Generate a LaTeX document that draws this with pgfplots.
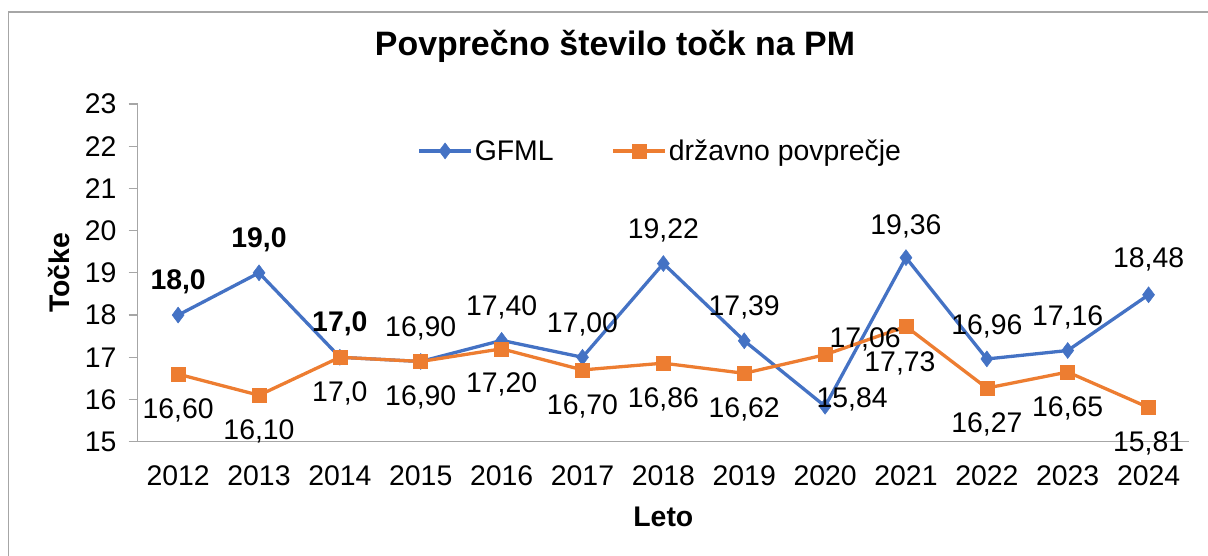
\documentclass[border=0pt]{standalone}
\usepackage{pgfplots}
\pgfplotsset{compat=1.18}
\usepackage{fontspec}
\setmainfont{Liberation Sans}
\definecolor{cblue}{HTML}{4472C4}
\definecolor{corange}{HTML}{ED7D31}
\definecolor{axgray}{HTML}{A6A6A6}
\newcommand\lblfont{\fontsize{28.5}{33}\selectfont}
\begin{document}
\begin{tikzpicture}[x=1bp,y=1bp]
\useasboundingbox (0,0) rectangle (1208,556);
\draw[axgray, line width=1.5bp] (8.5,0) -- (8.5,544) -- (1208,544);
\begin{axis}[
  at={(137.7bp,114.3bp)}, anchor=south west,
  scale only axis, width=1051.3bp, height=337.7bp,
  xmin=-0.5, xmax=12.5, ymin=15, ymax=23,
  axis x line*=bottom, axis y line*=left,
  axis line style={axgray, line width=1.2bp, -},
  every tick/.style={axgray, line width=1.2bp},
  tick align=outside, major tick length=9bp,
  ytick={15,...,23},
  xtick={0,...,12},
  xticklabels={2012,2013,2014,2015,2016,2017,2018,2019,2020,2021,2022,2023,2024},
  x tick style={draw=none},
  extra x ticks={-0.5,0.5,...,12.5},
  extra x tick labels={},
  extra x tick style={x tick style={axgray, line width=1.2bp}},
  /pgf/number format/assume math mode=true,
  ticklabel style={font=\lblfont, text=black},
  yticklabel style={anchor=east, inner sep=0pt, xshift=-12bp},
  xticklabel style={anchor=center, inner sep=0pt, yshift=-25bp},
  ylabel={\textbf{Točke}},
  ylabel style={at={(axis description cs:-0.0749,0.5)}, anchor=center, font=\lblfont},
  xlabel={\textbf{Leto}},
  xlabel style={at={(axis description cs:0.5,-0.223)}, anchor=center, font=\lblfont},
  title={Povprečno število točk na PM},
  title style={at={(axis description cs:0.454,1.1244)}, anchor=base, font=\bfseries\fontsize{34}{40}\selectfont},
  legend columns=2,
  legend style={draw=none, fill=none, at={(0.497,0.861)}, anchor=center, font=\lblfont,
    nodes={inner sep=2bp},
    /tikz/every even column/.append style={column sep=56bp}},
  legend image code/.code={\draw[#1, mark repeat=2, mark phase=2] plot coordinates {(0bp,0bp) (26bp,0bp) (52bp,0bp)};},
  clip=false,
]
\addplot[cblue, line width=3.3bp, mark=diamond*, mark size=8bp, mark options={solid, fill=cblue, draw=cblue, line width=0.5bp}]
  coordinates {(0,18.0) (1,19.0) (2,17.0) (3,16.90) (4,17.40) (5,17.00) (6,19.22) (7,17.39) (8,15.84) (9,19.36) (10,16.96) (11,17.16) (12,18.48)};
\addlegendentry{GFML}
\addplot[corange, line width=3.3bp, mark=square*, mark size=7bp, mark options={solid, fill=corange, draw=corange, line width=0.5bp}]
  coordinates {(0,16.60) (1,16.10) (2,17.0) (3,16.90) (4,17.20) (5,16.70) (6,16.86) (7,16.62) (8,17.06) (9,17.73) (10,16.27) (11,16.65) (12,15.81)};
\addlegendentry{državno povprečje}
% GFML labels above
\addplot[only marks, mark=none, forget plot, point meta=explicit symbolic, nodes near coords,
  nodes near coords style={anchor=center, yshift=33bp, font=\lblfont, text=black}]
  coordinates {(0,18.0)[\textbf{18,0}] (1,19.0)[\textbf{19,0}] (2,17.0)[\textbf{17,0}] (3,16.90)[16,90] (4,17.40)[17,40] (5,17.00)[17,00] (6,19.22)[19,22] (7,17.39)[17,39] (10,16.96)[16,96] (11,17.16)[17,16]};
\addplot[only marks, mark=none, forget plot, point meta=explicit symbolic, nodes near coords,
  nodes near coords style={anchor=center, yshift=31bp, font=\lblfont, text=black}]
  coordinates {(9,19.36)[19,36]};
\addplot[only marks, mark=none, forget plot, point meta=explicit symbolic, nodes near coords,
  nodes near coords style={anchor=center, yshift=35bp, font=\lblfont, text=black}]
  coordinates {(12,18.48)[18,48]};
\addplot[only marks, mark=none, forget plot, point meta=explicit symbolic, nodes near coords,
  nodes near coords style={anchor=center, xshift=27bp, yshift=7bp, font=\lblfont, text=black}]
  coordinates {(8,15.84)[15,84]};
% orange labels below
\addplot[only marks, mark=none, forget plot, point meta=explicit symbolic, nodes near coords,
  nodes near coords style={anchor=center, yshift=-36bp, font=\lblfont, text=black}]
  coordinates {(0,16.60)[16,60] (1,16.10)[16,10] (2,17.0)[17,0] (3,16.90)[16,90] (4,17.20)[17,20] (5,16.70)[16,70] (6,16.86)[16,86] (7,16.62)[16,62] (10,16.27)[16,27] (11,16.65)[16,65] (12,15.81)[15,81]};
\addplot[only marks, mark=none, forget plot, point meta=explicit symbolic, nodes near coords,
  nodes near coords style={anchor=center, xshift=-6bp, yshift=-37bp, font=\lblfont, text=black}]
  coordinates {(9,17.73)[17,73]};
\addplot[only marks, mark=none, forget plot, point meta=explicit symbolic, nodes near coords,
  nodes near coords style={anchor=center, xshift=40bp, yshift=15bp, font=\lblfont, text=black}]
  coordinates {(8,17.06)[17,06]};
\end{axis}
\end{tikzpicture}
\end{document}
